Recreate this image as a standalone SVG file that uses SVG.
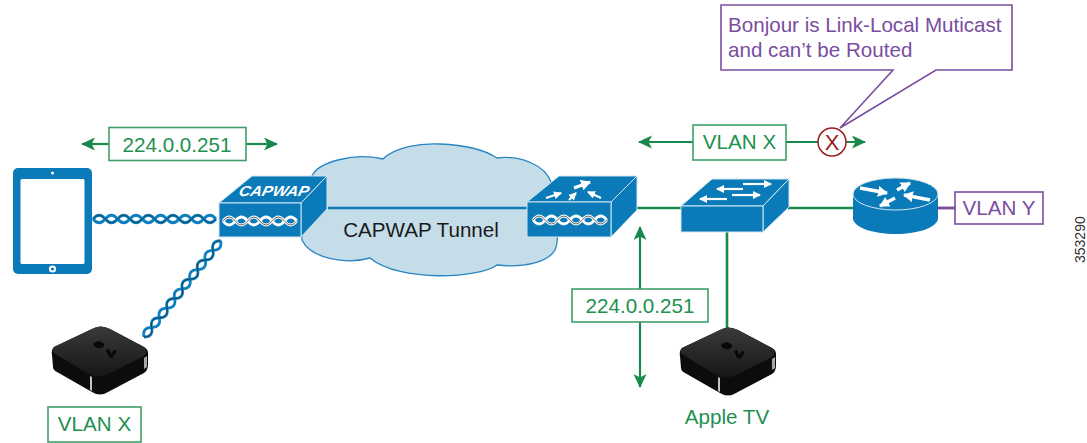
<svg xmlns="http://www.w3.org/2000/svg" xmlns:xlink="http://www.w3.org/1999/xlink" width="1087" height="443" viewBox="0 0 1087 443">
<style>
text{font-family:"Liberation Sans",Arial,sans-serif;font-size:20.6px}
.g{fill:#22904f;text-anchor:middle}
.p{fill:#7a4da0;text-anchor:middle}
.gb{fill:#fff;stroke:#3f9f68;stroke-width:1.6}
.pb{fill:#fff;stroke:#7a4da0;stroke-width:1.6}
.gl{fill:none;stroke:#17894a;stroke-width:2.6}
.arr{fill:none;stroke:#17894a;stroke-width:2.2;marker-end:url(#ga)}
.blue{fill:#0a7ab8;stroke:#cfe6f2;stroke-width:1}
.wa{fill:none;stroke:#fff;stroke-width:2.2;marker-end:url(#wh)}
.wb{fill:none;stroke:#fff;stroke-width:3.4;marker-end:url(#wh2)}
.s1{fill:none;stroke:#0f7fbd;stroke-width:2.8}
.s2{fill:none;stroke:#14303f;stroke-width:.7}
.a1{fill:none;stroke:#fff;stroke-width:2.8}
.a2{fill:none;stroke:#222;stroke-width:.7}
</style>
<defs>
<marker id="ga" markerUnits="userSpaceOnUse" markerWidth="16" markerHeight="14" refX="13" refY="6.5" orient="auto"><path d="M0 0L14 6.5L0 13L3.5 6.5Z" fill="#17894a"/></marker>
<marker id="wh" markerUnits="userSpaceOnUse" markerWidth="10" markerHeight="9" refX="7" refY="4" orient="auto"><path d="M0 0L8 4L0 8Z" fill="#fff"/></marker>
<marker id="wh2" markerUnits="userSpaceOnUse" markerWidth="14" markerHeight="12" refX="9" refY="5.5" orient="auto"><path d="M0 0L10 5.5L0 11Z" fill="#fff"/></marker>
<path id="up" d="M0 0q6.15 -7.5 12.3 0t12.3 0t12.3 0t12.3 0t12.3 0t12.3 0t12.3 0t12.3 0t12.3 0t12.3 0"/>
<path id="dn" d="M0 0q6.15 7.5 12.3 0t12.3 0t12.3 0t12.3 0t12.3 0t12.3 0t12.3 0t12.3 0t12.3 0t12.3 0"/>
<path id="aup" d="M0 0q6.15 -8 12.3 0t12.3 0t12.3 0t12.3 0t12.3 0t12.3 0"/>
<path id="adn" d="M0 0q6.15 8 12.3 0t12.3 0t12.3 0t12.3 0t12.3 0t12.3 0"/>
<linearGradient id="tvtop" x1="0" y1="0" x2="0" y2="1"><stop offset="0" stop-color="#3a3a3a"/><stop offset="1" stop-color="#161616"/></linearGradient>
<g id="tv">
<path d="M2 20Q-1 23 0 28L1 40Q1 43 5 45L40 65Q48 70 56 65L92 46Q96 43 96 38L96 26Q96 22 92 20L58 2Q48 -3 40 2Z" fill="#0c0c0c"/>
<path d="M2 20Q-1 23 2 26L36 47Q46 52 56 47L92 29Q97 25 92 20L58 2Q48 -3 40 2Z" fill="url(#tvtop)"/>
<path d="M38 49L40 50L40 64L38 63Z" fill="#c4c4c4"/>
<path d="M92 31L95 29L95 40L92 42Z" fill="#a8a8a8"/>
<path d="M41 17q5 -5 10 -1q3 3 -2 5q-6 1 -8 -4ZM54 23l3 -1l2 5l3 -4l3 1l-5 7l-3 -1Z" fill="#080808"/>
</g>
</defs>

<g id="cloud">
<path d="M313 174C320 163 352 152 383 159C395 147 420 143 440 144C465 145 485 150 497 158C520 155 545 165 551 182C557 200 560 240 555 250C548 262 525 268 497 265C480 278 400 283 370 258C345 265 310 258 302 240L300 200Z" fill="#c5dde9" stroke="#2a86c0" stroke-width="1.3"/>
<text x="421" y="237" text-anchor="middle" fill="#1a1a1a">CAPWAP Tunnel</text>
</g>

<g id="connectors">
<path d="M328 208H528" fill="none" stroke="#0a7ab8" stroke-width="2.6"/>
<path class="gl" d="M637 208H682M788 208H854M727 232V330"/>
<path d="M938 208H955" fill="none" stroke="#7a4da0" stroke-width="2.8"/>
<g transform="translate(93 219)"><use xlink:href="#up" class="s1"/><use xlink:href="#dn" class="s1"/><use xlink:href="#up" class="s2"/></g>
<g transform="translate(144 337) rotate(-51.5)"><use xlink:href="#up" class="s1"/><use xlink:href="#dn" class="s1"/><use xlink:href="#dn" class="s2"/></g>
<path class="arr" d="M109 144H82"/>
<path class="arr" d="M246 144H277"/>
<path class="arr" d="M693 142H639"/>
<path class="arr" d="M786 142H865"/>
<path class="arr" d="M640 289V227"/>
<path class="arr" d="M640 322V387"/>
</g>

<g id="tablet">
<rect x="13" y="168" width="79" height="106" rx="5" fill="#0a7ab8"/>
<rect x="20.500" y="179" width="64" height="85" rx="1.500" fill="#fff"/>
<circle cx="52.500" cy="173" r="1.500" fill="#fff"/>
<circle cx="52.500" cy="269" r="3.600" fill="#fff"/>
<circle cx="52.500" cy="269" r="1.600" fill="#0a7ab8"/>
</g>

<g id="ap">
<path class="blue" d="M219 203L252 176H327L301 203Z"/>
<path class="blue" d="M301 203L327 176V209L301 237Z"/>
<rect class="blue" x="219" y="203" width="82" height="34"/>
<text transform="translate(238 196) skewX(-14)" font-size="14.500" font-weight="bold" font-style="italic" fill="#fff" textLength="70" lengthAdjust="spacingAndGlyphs" style="font-size:14.500px">CAPWAP</text>
<g transform="translate(223 221)"><use xlink:href="#aup" class="a1"/><use xlink:href="#adn" class="a1"/><use xlink:href="#aup" class="a2"/></g>
</g>

<g id="wlc">
<path class="blue" d="M527 202L559 176H637L611 202Z"/>
<path class="blue" d="M611 202L637 176V210L611 237Z"/>
<rect class="blue" x="527" y="202" width="84" height="35"/>
<path class="wb" d="M574 188L590 182" style="marker-end:url(#wh2)"/>
<path class="wa" d="M546 198L561 193"/>
<path class="wa" d="M569 200L576 193"/>
<path class="wa" d="M601 198L588 192"/>
<g transform="translate(533 220)"><use xlink:href="#aup" class="a1"/><use xlink:href="#adn" class="a1"/><use xlink:href="#aup" class="a2"/></g>
</g>

<g id="switch">
<path class="blue" d="M681 206L712 179H789L763 206Z"/>
<path class="blue" d="M763 206L789 179V207L763 232Z"/>
<rect class="blue" x="681" y="206" width="82" height="26"/>
<path class="wa" d="M743 184H771"/>
<path class="wa" d="M743 189H717"/>
<path class="wa" d="M732 195H760"/>
<path class="wa" d="M727 199H700"/>
</g>

<g id="router">
<path d="M853 194V218C853 227 872 234 895.500 234C919 234 938 227 938 218V194Z" fill="#0a7ab8"/>
<ellipse cx="895.500" cy="194" rx="42.500" ry="16" fill="#0a7ab8" stroke="#cfe6f2" stroke-width="1"/>
<path class="wb" d="M860 188L887 193"/>
<path class="wb" d="M897 190L910 183"/>
<path class="wb" d="M930 200L904 195"/>
<path class="wb" d="M895 198L880 206"/>
</g>

<g id="appletv-left"><use xlink:href="#tv" transform="translate(52 327)"/></g>
<g id="appletv-right"><use xlink:href="#tv" transform="translate(680 328)"/><text class="g" x="727" y="424">Apple TV</text></g>

<g id="label-mcast-left"><rect class="gb" x="109" y="127.500" width="137" height="33"/><text class="g" x="177" y="152">224.0.0.251</text></g>
<g id="label-mcast-right"><rect class="gb" x="572" y="289" width="136" height="33"/><text class="g" x="640" y="313">224.0.0.251</text></g>
<g id="label-vlanx-left"><rect class="gb" x="48" y="407" width="93" height="35"/><text class="g" x="94.500" y="431">VLAN X</text></g>
<g id="label-vlanx-right"><rect class="gb" x="693" y="125" width="93" height="35"/><text class="g" x="739.500" y="149">VLAN X</text></g>
<g id="label-vlany"><rect class="pb" x="955" y="192" width="88" height="32"/><text class="p" x="999" y="215">VLAN Y</text></g>

<g id="callout">
<path class="pb" d="M721 5H1012V70H936L840 128L893 70H721Z"/>
<text fill="#7a4da0" x="728" y="32">Bonjour is Link-Local Muticast</text>
<text fill="#7a4da0" x="728" y="57">and can’t be Routed</text>
</g>

<g id="blocked">
<circle cx="832" cy="142" r="14" fill="#fff" stroke="#9b1c20" stroke-width="1.500"/>
<text x="832" y="150" text-anchor="middle" fill="#9b1c20" style="font-size:22px">X</text>
</g>

<text transform="translate(1085 263) rotate(-90)" fill="#333" style="font-size:14px">353290</text>
</svg>
